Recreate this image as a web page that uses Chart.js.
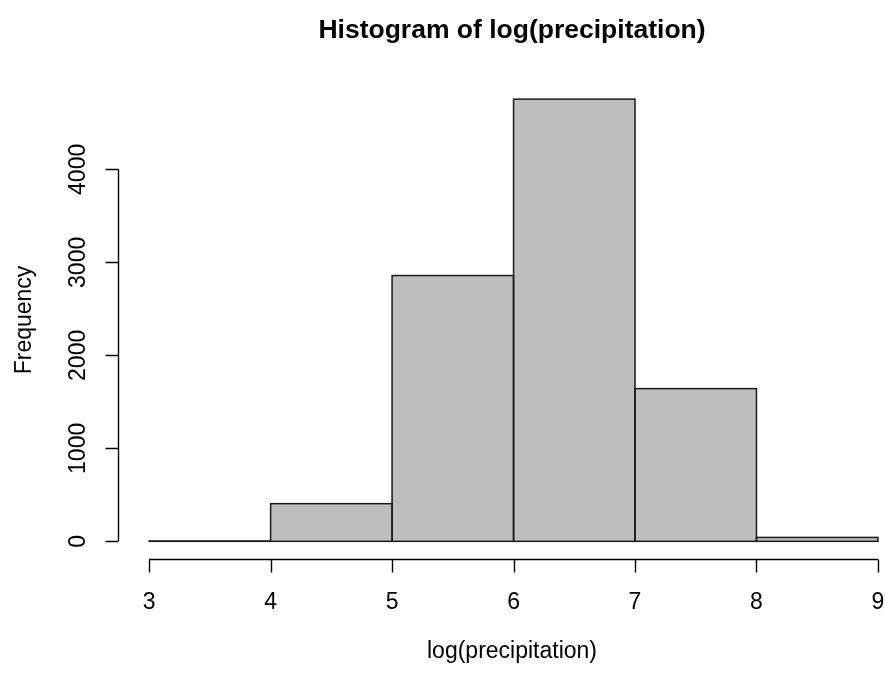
<!DOCTYPE html>
<html>
<head>
<meta charset="utf-8">
<script src="https://cdn.jsdelivr.net/npm/chart.js@4/dist/chart.umd.min.js"></script>
<style>
  html, body { margin: 0; padding: 0; background: #fff; }
  #wrap { width: 885px; height: 673px; }
</style>
</head>
<body>
<div id="wrap"><canvas id="hist" width="885" height="673"></canvas></div>
<script>
// bin midpoints (bins are 1 wide: 3-4, 4-5, ... 8-9)
const binMids = [3.5, 4.5, 5.5, 6.5, 7.5, 8.5];
const counts = [4, 405, 2858, 4755, 1642, 42];
const xTicks = [3, 4, 5, 6, 7, 8, 9];
const yTicks = [0, 1000, 2000, 3000, 4000];

const titleText = "Histogram of log(precipitation)";
const xTitle = "log(precipitation)";
const yTitle = "Frequency";

const FONT = "'Liberation Sans', Arial, Helvetica, sans-serif";

// R draws the rect border centred on the edge, even for near-empty bins
const barOutline = {
  id: "barOutline",
  afterDatasetsDraw(chart) {
    const { ctx } = chart;
    ctx.save();
    ctx.strokeStyle = "#1a1a1a";
    ctx.lineWidth = 1.5;
    chart.getDatasetMeta(0).data.forEach((bar) => {
      const { x, y, base, width } = bar.getProps(["x", "y", "base", "width"], true);
      ctx.strokeRect(x - width / 2, Math.min(y, base), width, Math.abs(base - y));
    });
    ctx.restore();
  },
};

// R-style axes, drawn from the chart's own scales
const rAxes = {
  id: "rAxes",
  afterDraw(chart) {
    const { ctx, chartArea, scales } = chart;
    const x = scales.x;
    const y = scales.y;
    ctx.save();
    ctx.strokeStyle = "#000";
    ctx.fillStyle = "#000";
    ctx.lineWidth = 1.4;

    // x axis
    const xb = Math.round(chartArea.bottom) + 0.5;
    ctx.beginPath();
    ctx.moveTo(x.getPixelForValue(xTicks[0]), xb);
    ctx.lineTo(x.getPixelForValue(xTicks[xTicks.length - 1]), xb);
    xTicks.forEach((t) => {
      const px = Math.round(x.getPixelForValue(t)) + 0.5;
      ctx.moveTo(px, xb);
      ctx.lineTo(px, xb + 13);
    });
    ctx.stroke();
    ctx.font = `23px ${FONT}`;
    ctx.textAlign = "center";
    ctx.textBaseline = "middle";
    xTicks.forEach((t) => {
      ctx.fillText(String(t), x.getPixelForValue(t), 603);
    });

    // y axis
    const yl = Math.round(chartArea.left) - 1.5;
    ctx.beginPath();
    ctx.moveTo(yl, y.getPixelForValue(yTicks[0]));
    ctx.lineTo(yl, y.getPixelForValue(yTicks[yTicks.length - 1]));
    yTicks.forEach((t) => {
      const py = Math.round(y.getPixelForValue(t)) + 0.5;
      ctx.moveTo(yl, py);
      ctx.lineTo(yl - 13, py);
    });
    ctx.stroke();
    yTicks.forEach((t) => {
      ctx.save();
      ctx.translate(79, y.getPixelForValue(t));
      ctx.rotate(-Math.PI / 2);
      ctx.fillText(String(t), 0, 0);
      ctx.restore();
    });

    // titles
    ctx.fillText(xTitle, 512, 652);
    ctx.save();
    ctx.translate(25, 320);
    ctx.rotate(-Math.PI / 2);
    ctx.fillText(yTitle, 0, 0);
    ctx.restore();

    ctx.font = `bold 26.5px ${FONT}`;
    ctx.fillText(titleText, 512, 31);
    ctx.restore();
  },
};

new Chart(document.getElementById("hist"), {
  type: "bar",
  data: {
    datasets: [
      {
        data: binMids.map((m, i) => ({ x: m, y: counts[i] })),
        backgroundColor: "#bebebe",
        borderWidth: 0,
        barPercentage: 1,
        categoryPercentage: 1,
        inflateAmount: 0,
      },
    ],
  },
  options: {
    responsive: false,
    animation: false,
    layout: { padding: { left: 120, right: 1, top: 81, bottom: 114 } },
    plugins: { legend: { display: false }, tooltip: { enabled: false } },
    scales: {
      x: { type: "linear", min: 2.76, max: 9.05, offset: false, display: false },
      y: { min: -190, max: 4950, display: false },
    },
  },
  plugins: [barOutline, rAxes],
});
</script>
</body>
</html>
